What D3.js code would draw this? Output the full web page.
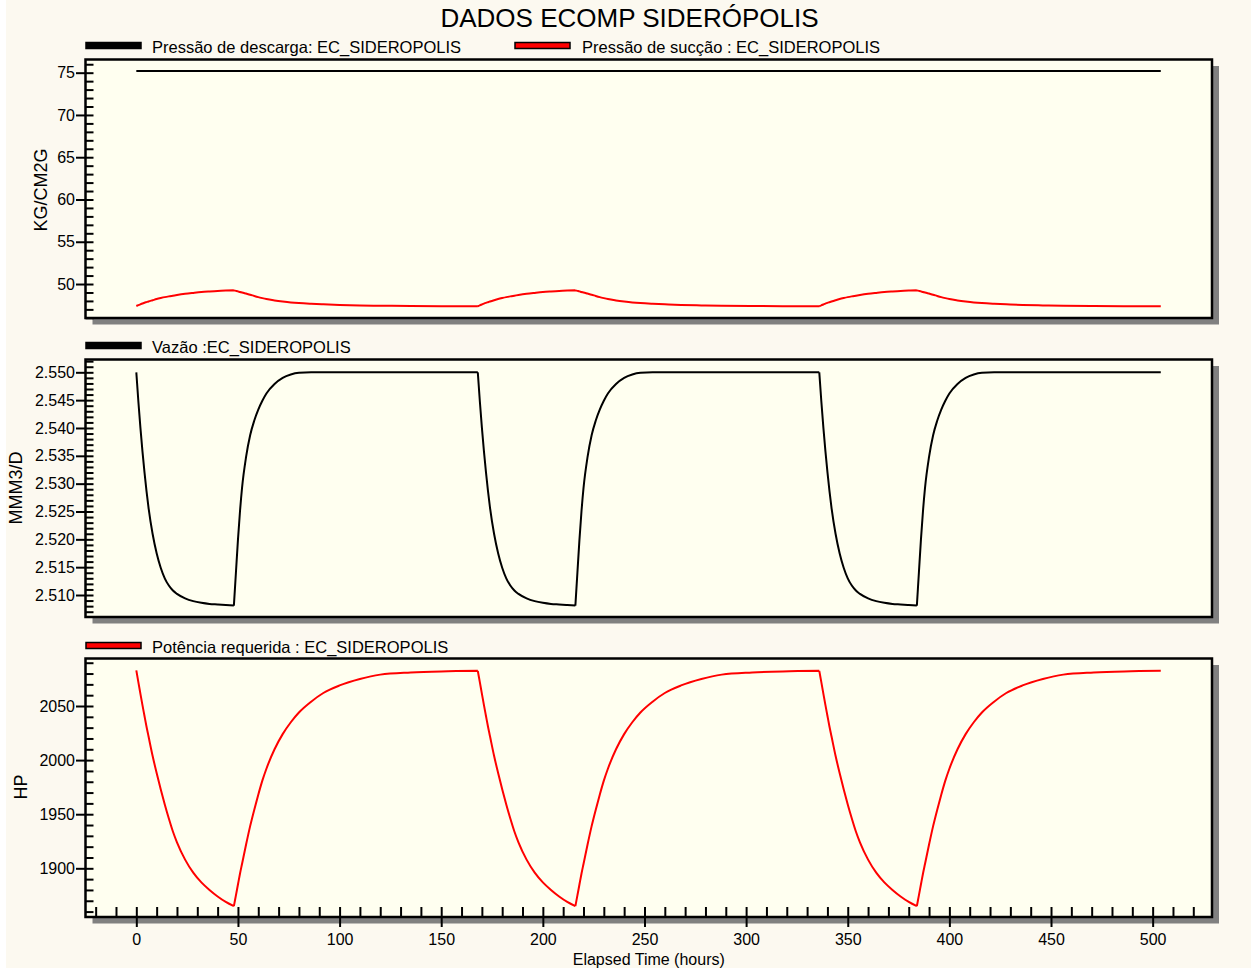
<!DOCTYPE html>
<html>
<head>
<meta charset="utf-8">
<script src="https://cdn.jsdelivr.net/npm/d3@7"></script>
<style>
  html, body { margin: 0; padding: 0; background: #ffffff; }
  svg { display: block; font-family: "Liberation Sans", Arial, Helvetica, sans-serif; }
</style>
</head>
<body>
<svg id="chart" width="1255" height="971"></svg>
<script>
// ---- Data: elapsed hours and station readings (EC_SIDEROPOLIS) ----
const hours = [
  0,1,2,3,4,5,6,8,10,12,14,16,18,20,24,28,32,36,40,44,48,49,50,51,52,54,56,58,60,62,64,68,72,76,80,86,92,100,110,120,135,150,
  168,169,170,171,172,173,174,176,178,180,182,184,186,188,192,196,200,204,208,212,216,217,218,219,220,222,224,226,228,230,232,236,240,244,248,254,260,268,278,288,303,318,
  336,337,338,339,340,341,342,344,346,348,350,352,354,356,360,364,368,372,376,380,384,385,386,387,388,390,392,394,396,398,400,404,408,412,416,422,428,436,446,456,471,486,
  504
];

// Hours where the operating regime switches (curve corners)
const switchHours = [48, 168, 216, 336, 384];

// Pressão de sucção (KG/CM2G)
const suctionPressure = [
  47.40,47.50,47.60,47.69,47.78,47.86,47.94,48.08,48.22,48.34,48.45,48.54,48.62,48.70,48.84,48.95,49.05,49.12,49.18,49.22,49.25,49.19,49.13,49.06,49.00,48.87,48.74,48.59,48.45,48.33,48.22,48.06,47.93,47.82,47.74,47.66,47.60,47.53,47.47,47.43,47.40,47.38,
  47.37,47.48,47.58,47.68,47.77,47.85,47.93,48.08,48.22,48.34,48.45,48.54,48.62,48.70,48.84,48.95,49.05,49.12,49.18,49.22,49.25,49.19,49.13,49.06,49.00,48.87,48.74,48.59,48.45,48.33,48.22,48.06,47.93,47.82,47.74,47.66,47.60,47.53,47.47,47.43,47.40,47.38,
  47.37,47.48,47.58,47.68,47.77,47.85,47.93,48.08,48.22,48.34,48.45,48.54,48.62,48.70,48.84,48.95,49.05,49.12,49.18,49.22,49.25,49.19,49.13,49.06,49.00,48.87,48.74,48.59,48.45,48.33,48.22,48.06,47.93,47.82,47.74,47.66,47.60,47.53,47.47,47.43,47.40,47.38,
  47.36
];

// Pressão de descarga (KG/CM2G)
const dischargeHours = [0, 504];
const dischargePressure = [75.2, 75.2];

// Vazão (MMM3/D)
const flowRate = [
  2.5500,2.5448,2.5401,2.5359,2.5321,2.5287,2.5257,2.5210,2.5175,2.5149,2.5130,2.5117,2.5108,2.5102,2.5094,2.5089,2.5086,2.5084,2.5083,2.5082,2.5081,2.5140,2.5199,2.5250,2.5292,2.5348,2.5387,2.5413,2.5433,2.5449,2.5462,2.5479,2.5490,2.5496,2.5499,2.5500,2.5500,2.5500,2.5500,2.5500,2.5500,2.5500,
  2.5500,2.5448,2.5401,2.5359,2.5321,2.5287,2.5257,2.5210,2.5175,2.5149,2.5130,2.5117,2.5108,2.5102,2.5094,2.5089,2.5086,2.5084,2.5083,2.5082,2.5081,2.5140,2.5199,2.5250,2.5292,2.5348,2.5387,2.5413,2.5433,2.5449,2.5462,2.5479,2.5490,2.5496,2.5499,2.5500,2.5500,2.5500,2.5500,2.5500,2.5500,2.5500,
  2.5500,2.5448,2.5401,2.5359,2.5321,2.5287,2.5257,2.5210,2.5175,2.5149,2.5130,2.5117,2.5108,2.5102,2.5094,2.5089,2.5086,2.5084,2.5083,2.5082,2.5081,2.5140,2.5199,2.5250,2.5292,2.5348,2.5387,2.5413,2.5433,2.5449,2.5462,2.5479,2.5490,2.5496,2.5499,2.5500,2.5500,2.5500,2.5500,2.5500,2.5500,2.5500,
  2.5500
];

// Potência requerida (HP)
const requiredPower = [
  2083,2072,2061.5,2051,2041,2031,2022,2004,1988,1973,1959,1946,1934,1924,1908,1896,1887,1880,1874,1869,1865,1875,1885,1895,1904,1922,1939,1954,1968,1981,1992,2010,2024,2035,2044,2054,2062,2069,2075,2079,2081,2082,
  2082.5,2072,2061.5,2051,2041,2031,2022,2004,1988,1973,1959,1946,1934,1924,1908,1896,1887,1880,1874,1869,1865,1875,1885,1895,1904,1922,1939,1954,1968,1981,1992,2010,2024,2035,2044,2054,2062,2069,2075,2079,2081,2082,
  2082.5,2072,2061.5,2051,2041,2031,2022,2004,1988,1973,1959,1946,1934,1924,1908,1896,1887,1880,1874,1869,1865,1875,1885,1895,1904,1922,1939,1954,1968,1981,1992,2010,2024,2035,2044,2054,2062,2069,2075,2079,2081,2082,
  2082.5
];

// Tick labels
const xTicks = [0, 50, 100, 150, 200, 250, 300, 350, 400, 450, 500];
const pressureTicks = [50, 55, 60, 65, 70, 75];
const flowTicks = [2.510, 2.515, 2.520, 2.525, 2.530, 2.535, 2.540, 2.545, 2.550];
const powerTicks = [1900, 1950, 2000, 2050];

// ---- Layout ----
const left = 85.5, right = 1212;
const svg = d3.select("#chart");

const PAGE_BG = "#fcf9f0";
const PLOT_BG = "#fffff0";
const SHADOW = "#808080";

svg.append("rect").attr("x", 6).attr("y", 0).attr("width", 1245).attr("height", 968).attr("fill", PAGE_BG);

svg.append("text")
  .attr("x", 629.5).attr("y", 27)
  .attr("text-anchor", "middle")
  .attr("font-size", 26)
  .attr("fill", "#000")
  .text("DADOS ECOMP SIDERÓPOLIS");

const x = d3.scaleLinear().domain([-25, 529.2]).range([left, right]);
const xMinor = d3.range(-20, 521, 10);

// split a series into smooth pieces between regime switches
function pieces(h, v) {
  const out = [];
  let cur = [];
  h.forEach((t, k) => {
    cur.push([t, v[k]]);
    if (switchHours.includes(t) && k < h.length - 1) {
      out.push(cur);
      cur = [[t, v[k]]];
    }
  });
  if (cur.length > 1) out.push(cur);
  return out;
}

const panels = [
  {
    top: 59.5, bottom: 318,
    domain: [45.98, 76.56],
    ticks: pressureTicks, minor: d3.range(46, 77, 1), fmt: d3.format("d"),
    label: "KG/CM2G", labelX: 47, labelY: 190,
    legendY: 42.5,
    series: [
      { h: dischargeHours, v: dischargePressure, color: "#000000", name: "Pressão de descarga: EC_SIDEROPOLIS", lx: 86, tx: 152 },
      { h: hours, v: suctionPressure, color: "#ff0000", name: "Pressão de sucção : EC_SIDEROPOLIS", lx: 515, tx: 582 }
    ]
  },
  {
    top: 359.5, bottom: 617,
    domain: [2.50605, 2.5523],
    ticks: flowTicks, minor: d3.range(2507, 2553, 1).map(d => d / 1000), fmt: d3.format(".3f"),
    label: "MMM3/D", labelX: 22, labelY: 488,
    legendY: 342.5,
    series: [
      { h: hours, v: flowRate, color: "#000000", name: "Vazão :EC_SIDEROPOLIS", lx: 86, tx: 152 }
    ]
  },
  {
    top: 658.5, bottom: 917,
    domain: [1855, 2093.9],
    ticks: powerTicks, minor: d3.range(1860, 2091, 10), fmt: d3.format("d"),
    label: "HP", labelX: 27, labelY: 787,
    legendY: 642.5,
    series: [
      { h: hours, v: requiredPower, color: "#ff0000", name: "Potência requerida : EC_SIDEROPOLIS", lx: 86, tx: 152 }
    ],
    xAxis: true
  }
];

panels.forEach((p, i) => {
  const g = svg.append("g");
  const y = d3.scaleLinear().domain(p.domain).range([p.bottom, p.top]);

  // drop shadow and plot background
  g.append("rect")
    .attr("x", left + 7).attr("y", p.top + 6.5)
    .attr("width", right - left).attr("height", p.bottom - p.top)
    .attr("fill", SHADOW);
  g.append("rect")
    .attr("x", left).attr("y", p.top)
    .attr("width", right - left).attr("height", p.bottom - p.top)
    .attr("fill", PLOT_BG);

  // legend
  p.series.forEach(s => {
    g.append("rect")
      .attr("x", s.lx).attr("y", p.legendY)
      .attr("width", 55).attr("height", 6)
      .attr("fill", s.color).attr("stroke", "#000").attr("stroke-width", 1.5);
    g.append("text")
      .attr("x", s.tx).attr("y", p.legendY + 10.2)
      .attr("font-size", 16.5).attr("fill", "#000")
      .text(s.name);
  });

  // series lines
  const clipId = "clip" + i;
  svg.append("clipPath").attr("id", clipId)
    .append("rect").attr("x", left).attr("y", p.top)
    .attr("width", right - left).attr("height", p.bottom - p.top);
  const line = d3.line().x(d => x(d[0])).y(d => y(d[1])).curve(d3.curveMonotoneX);
  p.series.forEach(s => {
    const path = pieces(s.h, s.v).map(seg => line(seg)).join("");
    g.append("path")
      .attr("clip-path", `url(#${clipId})`)
      .attr("fill", "none")
      .attr("stroke", s.color)
      .attr("stroke-width", 2)
      .attr("stroke-linejoin", "round")
      .attr("d", path);
  });

  // y axis: outer major ticks with labels
  const yOuter = g.append("g")
    .attr("transform", `translate(${left},0)`)
    .call(d3.axisLeft(y).tickValues(p.ticks).tickFormat(p.fmt).tickSize(9.5).tickPadding(1));
  // y axis: inner ticks (major and minor)
  const yInner = g.append("g")
    .attr("transform", `translate(${left},0)`)
    .call(d3.axisRight(y).tickValues(p.minor).tickFormat("").tickSize(8));
  [yOuter, yInner].forEach(a => {
    a.select(".domain").remove();
    a.selectAll(".tick line").attr("stroke", "#000").attr("stroke-width", 2);
  });
  yOuter.selectAll(".tick text")
    .attr("font-size", 16).attr("fill", "#000")
    .attr("font-family", "Liberation Sans, Arial, sans-serif");

  // y axis title
  g.append("text")
    .attr("transform", `translate(${p.labelX},${p.labelY}) rotate(-90)`)
    .attr("text-anchor", "middle")
    .attr("font-size", 18).attr("fill", "#000")
    .text(p.label);

  if (p.xAxis) {
    const xOuter = g.append("g")
      .attr("transform", `translate(0,${p.bottom})`)
      .call(d3.axisBottom(x).tickValues(xTicks).tickFormat(d3.format("d")).tickSize(10).tickPadding(7));
    const xInner = g.append("g")
      .attr("transform", `translate(0,${p.bottom})`)
      .call(d3.axisTop(x).tickValues(xMinor).tickFormat("").tickSize(10));
    [xOuter, xInner].forEach(a => {
      a.select(".domain").remove();
      a.selectAll(".tick line").attr("stroke", "#000").attr("stroke-width", 2);
    });
    xOuter.selectAll(".tick text")
      .attr("font-size", 16).attr("fill", "#000")
      .attr("font-family", "Liberation Sans, Arial, sans-serif");
  }

  // frame border
  g.append("rect")
    .attr("x", left).attr("y", p.top)
    .attr("width", right - left).attr("height", p.bottom - p.top)
    .attr("fill", "none").attr("stroke", "#000").attr("stroke-width", 2.5);
});

svg.append("text")
  .attr("x", (left + right) / 2).attr("y", 965)
  .attr("text-anchor", "middle")
  .attr("font-size", 16).attr("fill", "#000")
  .text("Elapsed Time (hours)");
</script>
</body>
</html>
